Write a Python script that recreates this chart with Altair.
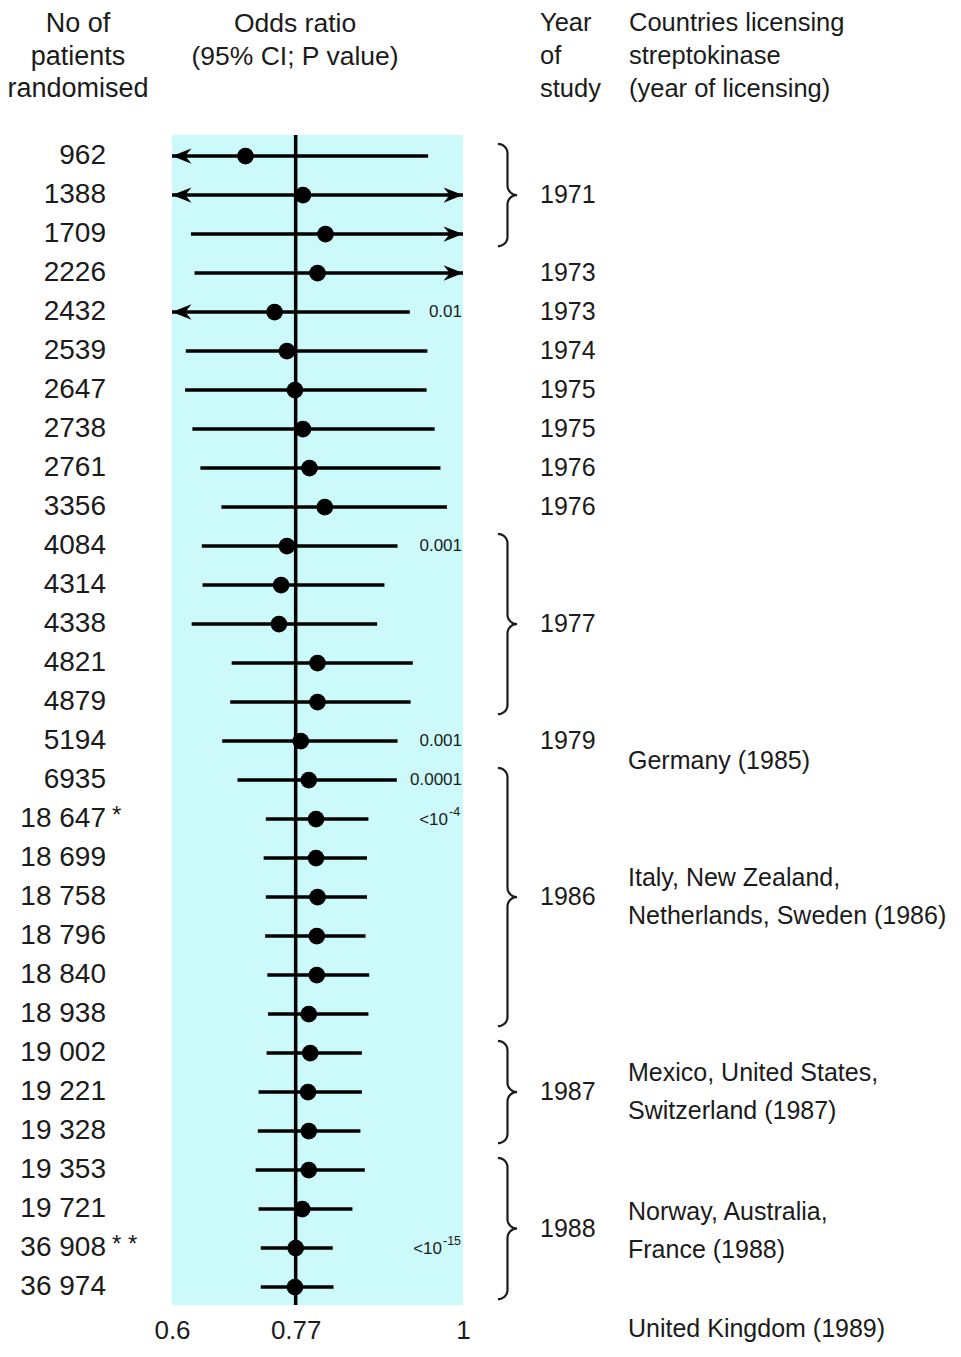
import altair as alt
import numpy as np
import pandas as pd

# ---------------- data ----------------
patients = ["962", "1388", "1709", "2226", "2432", "2539", "2647", "2738", "2761", "3356",
            "4084", "4314", "4338", "4821", "4879", "5194", "6935", "18 647", "18 699", "18 758",
            "18 796", "18 840", "18 938", "19 002", "19 221", "19 328", "19 353", "19 721",
            "36 908", "36 974"]
star_marks = [""] * 17 + ["*"] + [""] * 10 + ["* *"] + [""]
odds_ratio = [0.701, 0.780, 0.811, 0.800, 0.741, 0.758, 0.769, 0.780, 0.789, 0.810,
              0.758, 0.750, 0.747, 0.800, 0.800, 0.777, 0.788, 0.798, 0.798, 0.800,
              0.799, 0.799, 0.788, 0.790, 0.787, 0.788, 0.788, 0.779, 0.770, 0.769]
# None = interval runs beyond the axis (drawn as an arrow)
ci_low = [None, None, 0.626, 0.631, None, 0.619, 0.618, 0.628, 0.639, 0.668,
          0.641, 0.642, 0.627, 0.682, 0.680, 0.669, 0.690, 0.729, 0.726, 0.729,
          0.728, 0.731, 0.732, 0.730, 0.719, 0.718, 0.715, 0.719, 0.722, 0.722]
ci_high = [0.952, None, None, None, 0.927, 0.951, 0.950, 0.961, 0.969, 0.978,
           0.910, 0.892, 0.882, 0.931, 0.928, 0.910, 0.909, 0.870, 0.868, 0.868,
           0.866, 0.871, 0.870, 0.861, 0.861, 0.859, 0.865, 0.848, 0.821, 0.822]
study_year = [1971, 1971, 1971, 1973, 1973, 1974, 1975, 1975, 1976, 1976,
              1977, 1977, 1977, 1977, 1977, 1979, 1986, 1986, 1986, 1986,
              1986, 1986, 1986, 1987, 1987, 1987, 1988, 1988, 1988, 1988]
p_value = [""] * 4 + ["0.01"] + [""] * 5 + ["0.001"] + [""] * 4 + ["0.001", "0.0001", "<10"] + \
          [""] * 10 + ["<10", ""]
p_exponent = [""] * 17 + ["-4"] + [""] * 10 + ["-15", ""]
countries = ["Germany (1985)", "Italy, New Zealand,\nNetherlands, Sweden (1986)",
             "Mexico, United States,\nSwitzerland (1987)", "Norway, Australia,\nFrance (1988)",
             "United Kingdom (1989)"]
country_row = [15.5, 18.51, 23.51, 27.08, 30.08]   # row of the first line of each text
x_ticks = [0.6, 0.77, 1.0]
pooled_or = 0.77
x_domain = [0.6, 1.0]

# ---------------- layout constants ----------------
FONT = "Liberation Sans, Arial, Helvetica, sans-serif"
INK = "#1b1b1b"
W, H = 291, 1170
PX_PER_UNIT = W / (x_domain[1] - x_domain[0])

n = len(patients)
df = pd.DataFrame({
    "row": np.arange(n),
    "patients": patients,
    "star": star_marks,
    "or": odds_ratio,
    "lo": ci_low,
    "hi": ci_high,
    "year": study_year,
    "p": p_value,
    "pexp": p_exponent,
})
df["lo_d"] = df["lo"].fillna(x_domain[0]).astype(float)
df["hi_d"] = df["hi"].fillna(x_domain[1]).astype(float)

xs = alt.Scale(domain=x_domain, nice=False, zero=False)
ys = alt.Scale(domain=[-0.54, 29.46], nice=False, zero=False, reverse=True)
xaxis = alt.Axis(values=x_ticks, format=".2~f", title=None, ticks=False, domain=False,
                 grid=False, labelFont=FONT, labelFontSize=26, labelColor=INK,
                 labelPadding=12, labelFlush=False)


def X(field, **kw):
    return alt.X(field, scale=xs, axis=xaxis, **kw)


def Y(field):
    return alt.Y(field, scale=ys, axis=None)


base = alt.Chart(df)

vline = alt.Chart(pd.DataFrame({"x": [pooled_or]})).mark_rule(
    color="black", strokeWidth=3.5).encode(x=X("x:Q"), y=alt.value(0), y2=alt.value(H))

ci = base.mark_rule(color="black", strokeWidth=3.4).encode(
    x=X("lo_d:Q"), x2="hi_d:Q", y=Y("row:Q"))

dots = base.mark_circle(color="black", opacity=1, size=280).encode(
    x=X("or:Q"), y=Y("row:Q"))

left_arrow_shape = "M0,0 L1.9,-0.75 L1.3,0 L1.9,0.75 Z"
right_arrow_shape = "M0,0 L-1.9,-0.75 L-1.3,0 L-1.9,0.75 Z"
arr_l = alt.Chart(df[df["lo"].isna()]).mark_point(
    shape=left_arrow_shape, filled=True, color="black", opacity=1, size=420, strokeWidth=0
).encode(x=X("lo_d:Q"), y=Y("row:Q"))
arr_r = alt.Chart(df[df["hi"].isna()]).mark_point(
    shape=right_arrow_shape, filled=True, color="black", opacity=1, size=420, strokeWidth=0
).encode(x=X("hi_d:Q"), y=Y("row:Q"))

# patient numbers
num_text = base.mark_text(align="right", baseline="middle", font=FONT, fontSize=28,
                          color=INK).encode(text="patients:N", x=alt.value(-66), y=Y("row:Q"))
star_text = alt.Chart(df[df["star"] != ""]).mark_text(
    align="left", baseline="middle", font=FONT, fontSize=24, color=INK, dy=-3
).encode(text="star:N", x=alt.value(-60), y=Y("row:Q"))

# P values
p_plain = alt.Chart(df[(df["p"] != "") & (df["pexp"] == "")]).mark_text(
    align="right", baseline="middle", font=FONT, fontSize=17, color=INK
).encode(text="p:N", x=alt.value(W - 1), y=Y("row:Q"))
dexp = df[df["pexp"] != ""].copy()
dexp["xb"] = x_domain[1] - (dexp["pexp"].str.len() * 6.0 + 3) / PX_PER_UNIT
p_base = alt.Chart(dexp).mark_text(
    align="right", baseline="middle", font=FONT, fontSize=17, color=INK, dy=1
).encode(text="p:N", x=X("xb:Q"), y=Y("row:Q"))
p_sup = alt.Chart(dexp).mark_text(
    align="left", baseline="middle", font=FONT, fontSize=12.5, color=INK, dx=1, dy=-7
).encode(text="pexp:N", x=X("xb:Q"), y=Y("row:Q"))

# study-year groups: runs of 3+ rows get a brace and one label, others one label per row
groups = []
start = 0
for i in range(1, n + 1):
    if i == n or study_year[i] != study_year[start]:
        groups.append((study_year[start], start, i - 1))
        start = i
year_labels = []
brace_groups = []
for yv, r0, r1 in groups:
    if r1 - r0 >= 2:
        year_labels.append((yv, (r0 + r1) / 2))
        brace_groups.append((r0, r1))
    else:
        for r in range(r0, r1 + 1):
            year_labels.append((yv, r))
yr = pd.DataFrame({"year": [a for a, _ in year_labels], "pos": [b for _, b in year_labels]})
year_text = alt.Chart(yr).mark_text(align="left", baseline="middle", font=FONT,
                                    fontSize=25, color=INK).encode(
    text="year:N", x=alt.value(368), y=Y("pos:Q"))

xa = x_domain[0] + 326 / PX_PER_UNIT
xb = x_domain[0] + 335.5 / PX_PER_UNIT
xc = x_domain[0] + 345 / PX_PER_UNIT
k = 0.24
t = np.linspace(0, np.pi / 2, 12)
brace_rows = []
for gi, (r0, r1) in enumerate(brace_groups):
    top, bot, mid = r0 - 0.31, r1 + 0.31, (r0 + r1) / 2
    bx = np.concatenate([
        xa + (xb - xa) * np.sin(t),
        xb + (xc - xb) * (1 - np.cos(t)),
        (xb + (xc - xb) * (1 - np.cos(t)))[::-1],
        xa + (xb - xa) * np.cos(t),
    ])
    by = np.concatenate([
        top + k * (1 - np.cos(t)),
        mid - k + k * np.sin(t),
        (mid + k - k * np.sin(t))[::-1],
        bot - k + k * np.sin(t),
    ])
    for j, (a, b) in enumerate(zip(bx, by)):
        brace_rows.append({"g": gi, "ord": j, "bx": a, "by": b})
braces = alt.Chart(pd.DataFrame(brace_rows)).mark_line(
    color=INK, strokeWidth=2.2).encode(
    x=X("bx:Q"), y=Y("by:Q"), order="ord:Q", detail="g:N")

# countries
cdf = pd.DataFrame({"c": countries, "r": country_row})
country_text = alt.Chart(cdf).mark_text(
    align="left", baseline="middle", font=FONT, fontSize=25, color=INK,
    lineBreak="\n", lineHeight=38).encode(text="c:N", x=alt.value(456), y=Y("r:Q"))


def header(txt, x, y, align, size, lh=33):
    return alt.Chart(pd.DataFrame({"t": [txt]})).mark_text(
        align=align, baseline="middle", font=FONT, fontSize=size, color=INK,
        lineBreak="\n", lineHeight=lh).encode(text="t:N", x=alt.value(x), y=alt.value(y))


h1 = header("No of\npatients\nrandomised", -94, -111, "center", 27, 32.5)
h2 = header("Odds ratio\n(95% CI; P value)", 123, -111, "center", 26.5, 33)
h3 = header("Year\nof\nstudy", 368, -112, "left", 25.5, 33)
h4 = header("Countries licensing\nstreptokinase\n(year of licensing)", 457, -112, "left", 25.5, 33)

chart = alt.layer(
    vline, ci, arr_l, arr_r, dots, num_text, star_text, p_plain, p_base, p_sup,
    braces, year_text, country_text, h1, h2, h3, h4
).properties(
    width=W, height=H,
    autosize=alt.AutoSizeParams(type="none"),
    padding={"left": 164, "top": 127, "right": 490, "bottom": 39},
).configure_view(fill="#ccf9f9", stroke=None)

chart.save("out.html", embed_options={"renderer": "svg", "actions": False})
